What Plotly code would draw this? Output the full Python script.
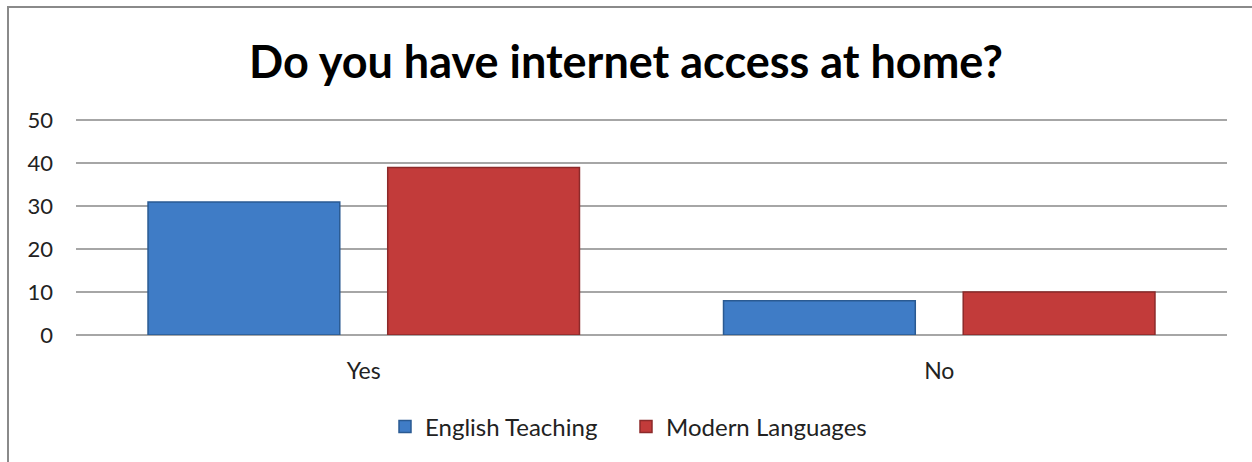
import plotly.graph_objects as go

# Survey responses by programme
categories = ["Yes", "No"]
english_teaching = [31, 8]
modern_languages = [39, 10]
series_names = ["English Teaching", "Modern Languages"]
y_ticks = [0, 10, 20, 30, 40, 50]

FONT = "Lato, 'Open Sans', sans-serif"
W, H = 1252, 462
ML, MR, MT, MB = 76, 25, 116, 127

fig = go.Figure()
fig.add_trace(go.Bar(
    x=categories, y=english_teaching, name=series_names[0],
    marker=dict(color="#3f7cc6", line=dict(color="#2a5a92", width=1.5)),
))
fig.add_trace(go.Bar(
    x=categories, y=modern_languages, name=series_names[1],
    marker=dict(color="#c23b3a", line=dict(color="#8c2a2a", width=1.5)),
))

# outer chart frame (top and left edges visible)
plot_w = W - ML - MR
plot_h = H - MT - MB
fig.add_shape(
    type="rect", xref="paper", yref="paper",
    x0=(8 - ML) / plot_w, x1=(W + 20 - ML) / plot_w,
    y0=(H - MB - (H + 20)) / plot_h, y1=(H - MB - 7) / plot_h,
    line=dict(color="#8a8a8a", width=2), fillcolor="rgba(0,0,0,0)", layer="below",
)

fig.update_layout(
    width=W, height=H,
    margin=dict(l=ML, r=MR, t=MT, b=MB),
    paper_bgcolor="white", plot_bgcolor="white",
    barmode="group", bargap=0.167, bargroupgap=0.2,
    font=dict(family=FONT, size=22, color="#222222"),
    title=dict(
        text="<b>Do you have internet access at home?</b>",
        x=0.5, xref="container", xanchor="center",
        y=1 - 62 / H, yref="container", yanchor="middle",
        font=dict(family=FONT, size=45, color="#000000"),
    ),
    legend=dict(
        orientation="h", x=0.5, xref="container", xanchor="center",
        y=1 - 427 / H, yref="container", yanchor="middle",
        font=dict(size=24, color="#222222"),
        itemwidth=30, entrywidth=196, entrywidthmode="pixels",
    ),
    showlegend=True,
)
fig.update_xaxes(
    showgrid=False, showline=False, ticks="",
    tickfont=dict(size=23), ticklabelstandoff=20,
)
fig.update_yaxes(
    range=[0, 51], tickvals=y_ticks, showgrid=True,
    gridcolor="#a6a6a6", gridwidth=1.5, zeroline=True,
    zerolinecolor="#a6a6a6", zerolinewidth=1.5,
    showline=False, ticks="", tickfont=dict(size=22),
    ticklabelstandoff=22,
)

fig.write_html("out.html")
